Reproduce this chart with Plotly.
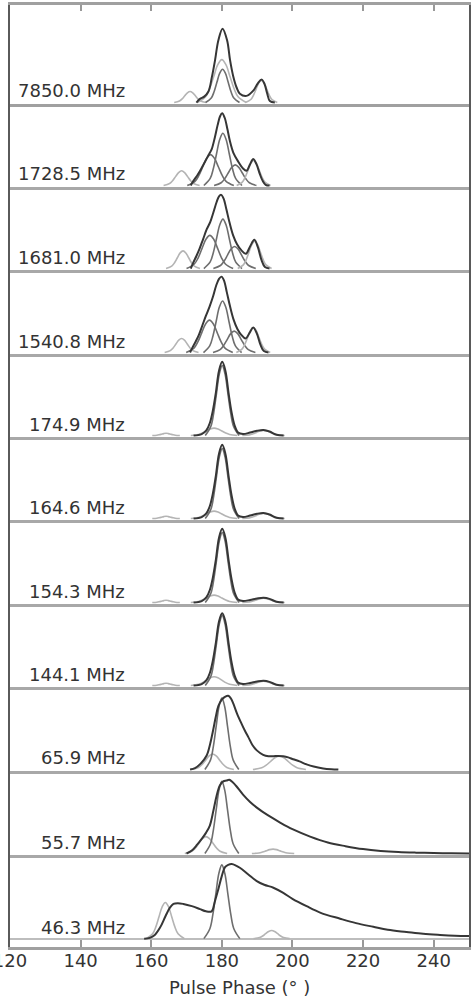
import plotly.graph_objects as go

# ---------------- data ----------------
freq_labels = ["7850.0 MHz", "1728.5 MHz", "1681.0 MHz", "1540.8 MHz", "174.9 MHz",
               "164.6 MHz", "154.3 MHz", "144.1 MHz", "65.9 MHz", "55.7 MHz", "46.3 MHz"]
tick_vals = [120, 140, 160, 180, 200, 220, 240]
tick_text = ["120", "140", "160", "180", "200", "220", "240"]
x_title = "Pulse Phase (° )"

# panel 1 : 7850.0 MHz
p01_x = [172.8, 173.8, 175, 176.2, 177.2, 178.1, 179, 180.2, 181.5, 182.3, 183.2,
         184.2, 185.1, 187, 188.9, 190.2, 191.3, 192.1, 192.8, 193.6, 195]
p01_y = [0.0, 0.05, 0.08, 0.15, 0.35, 0.58, 0.84, 1.0, 0.84, 0.58, 0.36,
         0.2, 0.12, 0.09, 0.16, 0.26, 0.31, 0.25, 0.13, 0.02, 0]
p01_cx = [[166.5, 168, 168.75, 169.5, 170.25, 171, 171.75, 172.5, 173.25, 174, 175.5],
          [173.1, 175.4, 176.55, 177.7, 178.85, 180, 181.15, 182.3, 183.45, 184.6, 186.9],
          [175.4, 177, 177.8, 178.6, 179.4, 180.2, 181, 181.8, 182.6, 183.4, 185],
          [186.7, 188.2, 188.95, 189.7, 190.45, 191.2, 191.95, 192.7, 193.45, 194.2, 195.7]]
p01_cy = [[0, 0.02, 0.049, 0.091, 0.132, 0.15, 0.132, 0.091, 0.049, 0.02, 0],
          [0, 0.078, 0.189, 0.352, 0.512, 0.58, 0.512, 0.352, 0.189, 0.078, 0],
          [0, 0.061, 0.146, 0.273, 0.397, 0.45, 0.397, 0.273, 0.146, 0.061, 0],
          [0, 0.041, 0.098, 0.182, 0.265, 0.3, 0.265, 0.182, 0.098, 0.041, 0]]
p01_shade = ["light", "light", "mid", "light"]

# panel 2 : 1728.5 MHz
p02_x = [171.2, 171.9, 173.2, 174.3, 175.2, 176.2, 177.1, 178, 178.8, 179.5,
         180.1, 180.8, 181.6, 182.3, 183.3, 184.7, 186, 187, 188, 188.9, 189.8, 190.8, 191.6, 192.4, 193.5]
p02_y = [0.0, 0.06, 0.15, 0.24, 0.32, 0.41, 0.49, 0.65, 0.82, 0.94,
         0.98, 0.92, 0.76, 0.6, 0.44, 0.32, 0.23, 0.2, 0.29, 0.36, 0.29, 0.15, 0.06, 0.01, 0]
p02_cx = [[163.5, 165.2, 166.05, 166.9, 167.75, 168.6, 169.45, 170.3, 171.15, 172, 173.7],
          [170.2, 172.4, 173.5, 174.6, 175.7, 176.8, 177.9, 179, 180.1, 181.2, 183.4],
          [174.9, 176.7, 177.6, 178.5, 179.4, 180.3, 181.2, 182.1, 183, 183.9, 185.7],
          [177.8, 179.8, 180.8, 181.8, 182.8, 183.8, 184.8, 185.8, 186.8, 187.8, 189.8],
          [184.2, 185.8, 186.6, 187.4, 188.2, 189, 189.8, 190.6, 191.4, 192.2, 193.8]]
p02_cy = [[0, 0.027, 0.065, 0.121, 0.176, 0.2, 0.176, 0.121, 0.065, 0.027, 0],
          [0, 0.057, 0.137, 0.255, 0.37, 0.42, 0.37, 0.255, 0.137, 0.057, 0],
          [0, 0.096, 0.231, 0.431, 0.626, 0.71, 0.626, 0.431, 0.231, 0.096, 0],
          [0, 0.038, 0.091, 0.17, 0.247, 0.28, 0.247, 0.17, 0.091, 0.038, 0],
          [0, 0.046, 0.111, 0.206, 0.3, 0.34, 0.3, 0.206, 0.111, 0.046, 0]]
p02_shade = ["light", "mid", "mid", "mid", "light"]

# panel 3 : 1681.0 MHz
p03_x = [171.2, 171.9, 172.8, 173.7, 174.7, 175.7, 176.7, 177.6, 178.5, 179.2,
         179.8, 180.5, 181.3, 182.2, 183.2, 184.3, 185.5, 186.8, 188, 189.2, 190.2, 191.2, 192.2, 193.5]
p03_y = [0.0, 0.08, 0.17, 0.27, 0.4, 0.53, 0.63, 0.76, 0.9, 0.98,
         1.0, 0.95, 0.8, 0.62, 0.45, 0.33, 0.25, 0.2, 0.3, 0.39, 0.29, 0.12, 0.02, 0]
p03_cx = [[164.2, 165.8, 166.6, 167.4, 168.2, 169, 169.8, 170.6, 171.4, 172.2, 173.8],
          [170, 172.2, 173.3, 174.4, 175.5, 176.6, 177.7, 178.8, 179.9, 181, 183.2],
          [174.9, 176.7, 177.6, 178.5, 179.4, 180.3, 181.2, 182.1, 183, 183.9, 185.7],
          [177.6, 179.6, 180.6, 181.6, 182.6, 183.6, 184.6, 185.6, 186.6, 187.6, 189.6],
          [184.5, 186.1, 186.9, 187.7, 188.5, 189.3, 190.1, 190.9, 191.7, 192.5, 194.1]]
p03_cy = [[0, 0.032, 0.078, 0.146, 0.212, 0.24, 0.212, 0.146, 0.078, 0.032, 0],
          [0, 0.061, 0.146, 0.273, 0.397, 0.45, 0.397, 0.273, 0.146, 0.061, 0],
          [0, 0.09, 0.218, 0.407, 0.591, 0.67, 0.591, 0.407, 0.218, 0.09, 0],
          [0, 0.041, 0.098, 0.182, 0.265, 0.3, 0.265, 0.182, 0.098, 0.041, 0],
          [0, 0.05, 0.12, 0.225, 0.326, 0.37, 0.326, 0.225, 0.12, 0.05, 0]]
p03_shade = ["light", "mid", "mid", "mid", "light"]

# panel 4 : 1540.8 MHz
p04_x = [171.0, 171.7, 172.6, 173.5, 174.5, 175.5, 176.5, 177.5, 178.4, 179.2,
         179.9, 180.6, 181.4, 182.3, 183.3, 184.4, 185.5, 186.7, 187.9, 188.9, 189.9, 190.9, 191.9, 193.2]
p04_y = [0.0, 0.07, 0.15, 0.24, 0.37, 0.5, 0.62, 0.76, 0.91, 1.0,
         1.03, 0.98, 0.82, 0.63, 0.45, 0.32, 0.24, 0.19, 0.27, 0.34, 0.26, 0.11, 0.02, 0]
p04_cx = [[163.8, 165.4, 166.2, 167, 167.8, 168.6, 169.4, 170.2, 171, 171.8, 173.4],
          [169.9, 172.1, 173.2, 174.3, 175.4, 176.5, 177.6, 178.7, 179.8, 180.9, 183.1],
          [174.8, 176.6, 177.5, 178.4, 179.3, 180.2, 181.1, 182, 182.9, 183.8, 185.6],
          [177.5, 179.5, 180.5, 181.5, 182.5, 183.5, 184.5, 185.5, 186.5, 187.5, 189.5],
          [184.1, 185.7, 186.5, 187.3, 188.1, 188.9, 189.7, 190.5, 191.3, 192.1, 193.7]]
p04_cy = [[0, 0.026, 0.062, 0.115, 0.168, 0.19, 0.168, 0.115, 0.062, 0.026, 0],
          [0, 0.059, 0.143, 0.267, 0.388, 0.44, 0.388, 0.267, 0.143, 0.059, 0],
          [0, 0.095, 0.228, 0.425, 0.617, 0.7, 0.617, 0.425, 0.228, 0.095, 0],
          [0, 0.039, 0.094, 0.176, 0.256, 0.29, 0.256, 0.176, 0.094, 0.039, 0],
          [0, 0.046, 0.111, 0.206, 0.3, 0.34, 0.3, 0.206, 0.111, 0.046, 0]]
p04_shade = ["light", "mid", "mid", "mid", "light"]

# panels 5-8 : 174.9, 164.6, 154.3, 144.1 MHz
p05_x = [172, 174.3, 175.6, 176.6, 177.5, 178.3, 179.2, 180.1, 181, 181.9, 182.7,
         183.6, 184.6, 186, 188, 190, 191.8, 193.5, 195.5, 197.5]
p05_y = [0, 0.02, 0.07, 0.17, 0.35, 0.58, 0.88, 1.0, 0.88, 0.58, 0.33,
         0.14, 0.04, 0.02, 0.04, 0.065, 0.075, 0.055, 0.01, 0]
p05_cx = [[160.3, 161.6, 162.25, 162.9, 163.55, 164.2, 164.85, 165.5, 166.15, 166.8, 168.1],
          [171.2, 173.4, 174.5, 175.6, 176.7, 177.8, 178.9, 180, 181.1, 182.2, 184.4],
          [185.8, 187.8, 188.8, 189.8, 190.8, 191.8, 192.8, 193.8, 194.8, 195.8, 197.8],
          [175.3, 176.9, 177.7, 178.5, 179.3, 180.1, 180.9, 181.7, 182.5, 183.3, 184.9]]
p05_cy = [[0, 0.004, 0.01, 0.018, 0.026, 0.03, 0.026, 0.018, 0.01, 0.004, 0],
          [0, 0.014, 0.033, 0.061, 0.088, 0.1, 0.088, 0.061, 0.033, 0.014, 0],
          [0, 0.009, 0.023, 0.042, 0.062, 0.07, 0.062, 0.042, 0.023, 0.009, 0],
          [0, 0.128, 0.309, 0.577, 0.838, 0.95, 0.838, 0.577, 0.309, 0.128, 0]]
p05_shade = ["light", "light", "light", "mid"]

p06_x = p05_x
p06_y = [0, 0.02, 0.07, 0.17, 0.35, 0.58, 0.88, 1.0, 0.88, 0.58, 0.33,
         0.14, 0.04, 0.02, 0.04, 0.065, 0.075, 0.055, 0.01, 0]
p06_cx = p05_cx
p06_cy = [[0, 0.004, 0.01, 0.018, 0.026, 0.03, 0.026, 0.018, 0.01, 0.004, 0],
          [0, 0.014, 0.033, 0.061, 0.088, 0.1, 0.088, 0.061, 0.033, 0.014, 0],
          [0, 0.009, 0.023, 0.042, 0.062, 0.07, 0.062, 0.042, 0.023, 0.009, 0],
          [0, 0.128, 0.309, 0.577, 0.838, 0.95, 0.838, 0.577, 0.309, 0.128, 0]]
p06_shade = p05_shade

p07_x = p05_x
p07_y = [0, 0.02, 0.07, 0.17, 0.35, 0.58, 0.88, 1.0, 0.88, 0.58, 0.33,
         0.14, 0.04, 0.02, 0.035, 0.055, 0.065, 0.05, 0.01, 0]
p07_cx = p05_cx
p07_cy = [[0, 0.004, 0.01, 0.018, 0.026, 0.03, 0.026, 0.018, 0.01, 0.004, 0],
          [0, 0.014, 0.033, 0.061, 0.088, 0.1, 0.088, 0.061, 0.033, 0.014, 0],
          [0, 0.008, 0.02, 0.036, 0.053, 0.06, 0.053, 0.036, 0.02, 0.008, 0],
          [0, 0.128, 0.309, 0.577, 0.838, 0.95, 0.838, 0.577, 0.309, 0.128, 0]]
p07_shade = p05_shade

p08_x = p05_x
p08_y = [0, 0.02, 0.07, 0.17, 0.35, 0.58, 0.87, 0.98, 0.87, 0.58, 0.33,
         0.14, 0.04, 0.02, 0.035, 0.055, 0.065, 0.05, 0.01, 0]
p08_cx = p05_cx
p08_cy = [[0, 0.004, 0.01, 0.018, 0.026, 0.03, 0.026, 0.018, 0.01, 0.004, 0],
          [0, 0.016, 0.039, 0.073, 0.106, 0.12, 0.106, 0.073, 0.039, 0.016, 0],
          [0, 0.008, 0.02, 0.036, 0.053, 0.06, 0.053, 0.036, 0.02, 0.008, 0],
          [0, 0.128, 0.309, 0.577, 0.838, 0.95, 0.838, 0.577, 0.309, 0.128, 0]]
p08_shade = p05_shade

# panel 9 : 65.9 MHz
p09_x = [171, 172.4, 174, 175.7, 176.7, 177.6, 178.3, 179, 180, 181, 181.8, 182.5, 183.2, 184.3, 185.6,
         186.5, 187.5, 188.7, 189.9, 191.7, 193.2, 194.6, 196, 197.4, 198.8, 200.2, 202, 204, 206, 208.7, 211, 213]
p09_y = [0, 0.02, 0.08, 0.19, 0.35, 0.55, 0.72, 0.86, 0.95, 0.99, 1.0, 0.97, 0.9, 0.76, 0.62,
         0.53, 0.44, 0.33, 0.26, 0.2, 0.18, 0.18, 0.185, 0.18, 0.165, 0.14, 0.11, 0.07, 0.04, 0.015, 0.004, 0]
p09_cx = [[171.4, 173.4, 174.4, 175.4, 176.4, 177.4, 178.4, 179.4, 180.4, 181.4, 183.4],
          [188.8, 191.3, 192.55, 193.8, 195.05, 196.3, 197.55, 198.8, 200.05, 201.3, 203.8],
          [175.2, 176.8, 177.6, 178.4, 179.2, 180, 180.8, 181.6, 182.4, 183.2, 184.8]]
p09_cy = [[0, 0.028, 0.068, 0.127, 0.185, 0.21, 0.185, 0.127, 0.068, 0.028, 0],
          [0, 0.024, 0.059, 0.109, 0.159, 0.18, 0.159, 0.109, 0.059, 0.024, 0],
          [0, 0.131, 0.315, 0.589, 0.856, 0.97, 0.856, 0.589, 0.315, 0.131, 0]]
p09_shade = ["light", "light", "mid"]

# panel 10 : 55.7 MHz
p10_x = [170, 171.5, 173, 174.3, 175.5, 176.6, 177.6, 178.5, 179.4, 180.4, 181.3, 182.1, 183, 184, 186,
         188, 190, 193, 196.5, 200, 205, 210, 215, 220, 225, 230, 235, 240, 245, 250]
p10_y = [0, 0.04, 0.12, 0.2, 0.28, 0.38, 0.58, 0.78, 0.92, 0.98, 0.99, 1.0, 0.97, 0.92, 0.8,
         0.7, 0.62, 0.52, 0.42, 0.33, 0.23, 0.15, 0.1, 0.06, 0.035, 0.02, 0.012, 0.007, 0.003, 0]
p10_cx = [[169.5, 171.5, 172.5, 173.5, 174.5, 175.5, 176.5, 177.5, 178.5, 179.5, 181.5],
          [188.5, 190.5, 191.5, 192.5, 193.5, 194.5, 195.5, 196.5, 197.5, 198.5, 200.5],
          [175.2, 176.8, 177.6, 178.4, 179.2, 180, 180.8, 181.6, 182.4, 183.2, 184.8]]
p10_cy = [[0, 0.031, 0.075, 0.14, 0.203, 0.23, 0.203, 0.14, 0.075, 0.031, 0],
          [0, 0.008, 0.02, 0.036, 0.053, 0.06, 0.053, 0.036, 0.02, 0.008, 0],
          [0, 0.132, 0.319, 0.595, 0.864, 0.98, 0.864, 0.595, 0.319, 0.132, 0]]
p10_shade = ["light", "light", "mid"]

# panel 11 : 46.3 MHz
p11_x = [158, 159.6, 161, 162.5, 164, 165.3, 166.3, 167.5, 169.1, 171.5, 173.8, 175.5, 177.1, 178, 179,
         180, 180.9, 181.8, 182.8, 184, 185.1, 187.5, 189.9, 192, 194.6, 197.4, 200, 204, 208, 213.5,
         218, 222.9, 227, 232.3, 237, 241.8, 246, 250]
p11_y = [0, 0.01, 0.05, 0.15, 0.3, 0.42, 0.47, 0.48, 0.47, 0.44, 0.4, 0.37, 0.37, 0.5, 0.67,
         0.85, 0.97, 1.0, 1.01, 0.99, 0.96, 0.87, 0.78, 0.73, 0.69, 0.62, 0.54, 0.44, 0.35, 0.27,
         0.21, 0.16, 0.12, 0.09, 0.065, 0.05, 0.04, 0.035]
p11_cx = [[158.6, 160.4, 161.3, 162.2, 163.1, 164, 164.9, 165.8, 166.7, 167.6, 169.4],
          [189, 190.7, 191.55, 192.4, 193.25, 194.1, 194.95, 195.8, 196.65, 197.5, 199.2],
          [174.9, 176.6, 177.45, 178.3, 179.15, 180, 180.85, 181.7, 182.55, 183.4, 185.1]]
p11_cy = [[0, 0.066, 0.159, 0.297, 0.432, 0.49, 0.432, 0.297, 0.159, 0.066, 0],
          [0, 0.015, 0.036, 0.067, 0.097, 0.11, 0.097, 0.067, 0.036, 0.015, 0],
          [0, 0.135, 0.325, 0.607, 0.882, 1.0, 0.882, 0.607, 0.325, 0.135, 0]]
p11_shade = ["light", "light", "mid"]

profiles_x = [p01_x, p02_x, p03_x, p04_x, p05_x, p06_x, p07_x, p08_x, p09_x, p10_x, p11_x]
profiles_y = [p01_y, p02_y, p03_y, p04_y, p05_y, p06_y, p07_y, p08_y, p09_y, p10_y, p11_y]
comps_x = [p01_cx, p02_cx, p03_cx, p04_cx, p05_cx, p06_cx, p07_cx, p08_cx, p09_cx, p10_cx, p11_cx]
comps_y = [p01_cy, p02_cy, p03_cy, p04_cy, p05_cy, p06_cy, p07_cy, p08_cy, p09_cy, p10_cy, p11_cy]
shades = [p01_shade, p02_shade, p03_shade, p04_shade, p05_shade, p06_shade, p07_shade, p08_shade,
          p09_shade, p10_shade, p11_shade]

# ---------------- layout geometry (pixels) ----------------
W, H = 472, 1001
L, R, T, B = 10, 469, 5, 947
UNIT = 75.0
tops = [5, 104, 187, 270, 354, 437, 520, 604, 687, 771, 855]
bottoms = [104, 187, 270, 354, 437, 520, 604, 687, 771, 855, 947]
baselines = [104, 187, 270, 354, 437, 520, 604, 687, 771, 855, 940]
PH = B - T


def py(p):
    return (B - p) / PH


FONT = "DejaVu Sans"
COL_PROFILE = "#363636"
COL_MID = "#6e6e6e"
COL_LIGHT = "#b4b4b4"

fig = go.Figure()
layout = dict(width=W, height=H, autosize=False, margin=dict(l=L, r=W - R, t=T, b=H - B, pad=0, autoexpand=False),
              paper_bgcolor="white", plot_bgcolor="white", showlegend=False,
              font=dict(family=FONT, size=18, color="#333"))
annotations = []
n = len(freq_labels)
for i in range(n):
    k = "" if i == 0 else str(i + 1)
    xa, ya = "x" + k, "y" + k
    for cx, cy, sh in zip(comps_x[i], comps_y[i], shades[i]):
        fig.add_trace(go.Scatter(x=cx, y=cy, mode="lines", xaxis=xa, yaxis=ya,
                                 line=dict(color=COL_MID if sh == "mid" else COL_LIGHT, width=1.6,
                                           shape="spline", smoothing=1.0),
                                 hoverinfo="skip"))
    fig.add_trace(go.Scatter(x=profiles_x[i], y=profiles_y[i], mode="lines", xaxis=xa, yaxis=ya,
                             line=dict(color=COL_PROFILE, width=2.0, shape="spline", smoothing=1.0),
                             hoverinfo="skip"))
    lo = -(bottoms[i] - baselines[i]) / UNIT - 0.02
    hi = (baselines[i] - tops[i]) / UNIT
    xax = dict(domain=[0, 1], range=[120, 250], anchor=ya, showgrid=False, zeroline=False,
               showline=True, linecolor="#a8a8a8", linewidth=3, ticks="", showticklabels=False,
               tickvals=tick_vals, ticktext=tick_text, fixedrange=True, automargin=False)
    if i > 0:
        xax["matches"] = "x"
    if i == 0:
        xax.update(side="top", mirror=True, ticks="inside", ticklen=6, tickcolor="#999", tickwidth=1.5,
                   linecolor="#a0a0a0")
    if i == n - 1:
        xax.update(ticks="inside", ticklen=7, tickcolor="#999", tickwidth=1.5, showticklabels=True,
                   tickfont=dict(family=FONT, size=18, color="#333"), linecolor="#a0a0a0", linewidth=2.5,
                   ticklabeloverflow="allow", ticklabelstandoff=-4)
    yax = dict(domain=[py(bottoms[i]), py(tops[i])], range=[lo, hi], anchor=xa, showgrid=False,
               zeroline=(i == n - 1), zerolinecolor="#bdbdbd", zerolinewidth=2,
               showline=True, linecolor="#5a5a5a", linewidth=2, mirror=True,
               showticklabels=False, ticks="", fixedrange=True, automargin=False)
    layout["xaxis" + k] = xax
    layout["yaxis" + k] = yax
    annotations.append(dict(text=freq_labels[i], xref="paper", yref="paper",
                            x=(127 - L) / (R - L), y=py(baselines[i] - 13),
                            xanchor="right", yanchor="middle", showarrow=False,
                            font=dict(family=FONT, size=18, color="#333")))

annotations.append(dict(text=x_title, xref="paper", yref="paper", x=0.5, y=py(987),
                        xanchor="center", yanchor="middle", showarrow=False,
                        font=dict(family=FONT, size=18, color="#333")))
layout["annotations"] = annotations
fig.update_layout(**layout)
fig.write_html("out.html")
